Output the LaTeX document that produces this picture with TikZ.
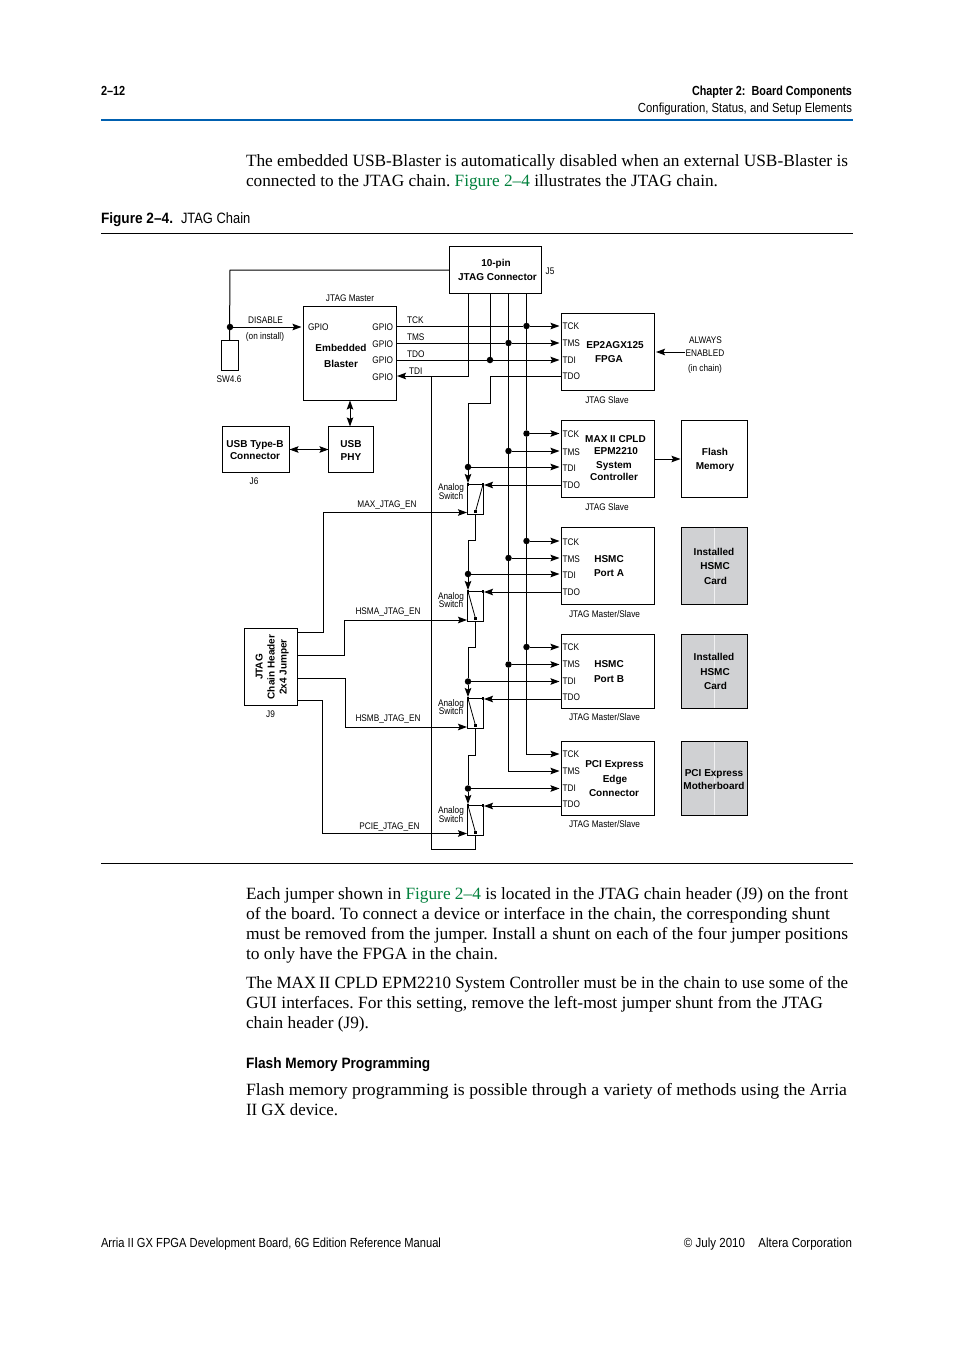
\documentclass[tikz,border=0pt]{standalone}
\usepackage{fontspec}
\usepackage{graphicx}
\usetikzlibrary{arrows.meta}
\setmainfont{Liberation Serif}
\newfontfamily\nar[FakeStretch=0.86]{Liberation Sans}
\newfontfamily\hd[FakeStretch=0.86]{Liberation Sans}
\newfontfamily\hdb[FakeStretch=0.83]{Liberation Sans}
\newfontfamily\capb[FakeStretch=0.91]{Liberation Sans}
\newfontfamily\bod[FakeStretch=1.005]{Liberation Serif}
\newfontfamily\bsans{Liberation Sans}
\definecolor{link}{RGB}{0,128,60}
\definecolor{rulebl}{RGB}{0,96,176}
\definecolor{card}{RGB}{208,209,211}
\newcounter{tc}
\newcommand\T[3][lab]{\stepcounter{tc}\node[#1] (txt\thetc) at (#2) {#3};}
\newcommand\B[3][bold]{\stepcounter{tc}\node[#1] (txt\thetc) at (#2) {#3};}
\newcommand\fitw[2]{\resizebox{#1pt}{\height}{#2}}
\tikzset{
 base/.style={inner sep=0pt,outer sep=0pt,text height=9.2pt,text depth=2pt},
 lab/.style={base,font=\nar\fontsize{9.6}{10}\selectfont},
 labw/.style={lab,anchor=west},
 labe/.style={lab,anchor=east},
 bold/.style={base,font=\bsans\bfseries\fontsize{10}{11}\selectfont},
 chip/.style={draw=black,line width=1pt,inner sep=0pt,outer sep=0pt},
 cardbox/.style={chip,fill=card},
 wire/.style={line width=1pt,draw=black},
 arr/.style={wire,-{Stealth[length=9pt,width=6.5pt,inset=1.5pt]}},
 darr/.style={wire,{Stealth[length=9pt,width=6.5pt,inset=1.5pt]}-{Stealth[length=9pt,width=6.5pt,inset=1.5pt]}},
 dotn/.style={circle,fill=black,inner sep=0pt,minimum size=6.5pt},
 pad/.style={fill=black,inner sep=0pt,minimum size=2.6pt},
 body/.style={anchor=west,inner sep=0pt,outer sep=0pt,text height=15pt,text depth=3.5pt,font=\bod\fontsize{17.2}{20}\selectfont\frenchspacing},
 head/.style={inner sep=0pt,outer sep=0pt,text height=11pt,text depth=2.5pt,font=\hd\fontsize{13.15}{14}\selectfont},
 headb/.style={head,font=\hdb\bfseries\fontsize{13.15}{14}\selectfont},
 capt/.style={head,anchor=west,font=\hd\fontsize{15}{16}\selectfont},
 captb/.style={head,anchor=west,font=\capb\bfseries\fontsize{15}{16}\selectfont},
 swbox/.style={draw=black,line width=1pt,inner sep=0pt,minimum width=16pt,minimum height=30pt}
}
\begin{document}
\begin{tikzpicture}[x=1pt,y=-1pt]
\useasboundingbox (0,0) rectangle (954,1350);
\fill[white] (0,0) rectangle (954,1350);

% page furniture
\coordinate (r1a) at (101,120); \coordinate (r1b) at (853,120);
\coordinate (r2a) at (101,233.5); \coordinate (r2b) at (853,233.5);
\coordinate (r3a) at (101,863.5); \coordinate (r3b) at (853,863.5);
\draw[rulebl,line width=2pt] (r1a) -- (r1b);
\draw[black,line width=.7pt] (r2a) -- (r2b);
\draw[black,line width=.7pt] (r3a) -- (r3b);
\T[headb,anchor=west]{101,91}{2–12}
\T[headb,anchor=east]{852,91}{\fitw{160}{Chapter 2:\, Board Components}}
\T[head,anchor=east]{852,108}{\fitw{214}{Configuration, Status, and Setup Elements}}
\T[captb]{101,219}{Figure 2–4.}
\T[capt]{181,219}{JTAG Chain}
\T[body]{246,161}{\fitw{602}{The embedded USB-Blaster is automatically disabled when an external USB-Blaster is}}
\T[body]{246,181}{\fitw{472}{connected to the JTAG chain. \textcolor{link}{Figure 2–4} illustrates the JTAG chain.}}
\T[body]{246,894}{\fitw{602}{Each jumper shown in \textcolor{link}{Figure 2–4} is located in the JTAG chain header (J9) on the front}}
\T[body]{246,914}{\fitw{584}{of the board. To connect a device or interface in the chain, the corresponding shunt}}
\T[body]{246,934}{\fitw{602}{must be removed from the jumper. Install a shunt on each of the four jumper positions}}
\T[body]{246,954}{\fitw{252}{to only have the FPGA in the chain.}}
\T[body]{246,983}{\fitw{602}{The MAX\,II CPLD EPM2210 System Controller must be in the chain to use some of the}}
\T[body]{246,1003}{\fitw{577}{GUI interfaces. For this setting, remove the left-most jumper shunt from the JTAG}}
\T[body]{246,1023}{\fitw{123}{chain header (J9).}}
\T[captb]{246,1064}{Flash Memory Programming}
\T[body]{246,1090}{\fitw{601}{Flash memory programming is possible through a variety of methods using the Arria}}
\T[body]{246,1110}{\fitw{92}{II GX device.}}
\T[head,anchor=west]{101,1243}{\fitw{340}{Arria II GX FPGA Development Board, 6G Edition Reference Manual}}
\T[head,anchor=east]{852,1243}{\fitw{168}{© July 2010\quad Altera Corporation}}

% boxes
\node[chip,minimum width=92pt,minimum height=47pt] (jtag) at (495.5,270) {};
\node[chip,minimum width=93pt,minimum height=94pt] (blaster) at (350,353.5) {};
\node[chip,minimum width=17pt,minimum height=30pt] (sw) at (229.5,355) {};
\node[chip,minimum width=67pt,minimum height=46pt] (typeb) at (256,449.5) {};
\node[chip,minimum width=45pt,minimum height=46.5pt] (phy) at (351,449.7) {};
\node[chip,minimum width=93pt,minimum height=77pt] (fpga) at (608,352) {};
\node[chip,minimum width=93pt,minimum height=77pt] (max) at (608,459) {};
\node[chip,minimum width=66pt,minimum height=77pt] (flash) at (714.5,459) {};
\node[chip,minimum width=93pt,minimum height=77pt] (hsma) at (608,566) {};
\node[cardbox,minimum width=66pt,minimum height=77pt] (carda) at (714.5,566) {};
\node[chip,minimum width=93pt,minimum height=74pt] (hsmb) at (608,671.5) {};
\node[cardbox,minimum width=66pt,minimum height=74pt] (cardb) at (714.5,671.5) {};
\node[chip,minimum width=93pt,minimum height=74pt] (pci) at (608,778.5) {};
\node[cardbox,minimum width=66pt,minimum height=74pt] (cardc) at (714.5,778.5) {};
\node[chip,minimum width=53pt,minimum height=77pt] (j9) at (271,667) {};
\foreach \c in {carda,cardb,cardc}{\draw[white!70!card,line width=.5pt] ([yshift=-.5pt]\c.north) -- ([yshift=.5pt]\c.south);}

% analog switches
\node[swbox] (s1) at (475.5,499) {};
\node[swbox] (s2) at (475.5,606) {};
\node[swbox] (s3) at (475.5,713) {};
\node[swbox] (s4) at (475.5,820) {};
\foreach \s in {s1,s2,s3,s4}{
 \node[pad] (\s a) at ([xshift=1pt,yshift=-1pt]\s.north west) {};
 \node[pad] (\s b) at ([xshift=-1pt,yshift=-1pt]\s.north east) {};
 \node[pad] (\s c) at ([yshift=3pt]\s.south) {};
}
\draw[wire,line width=.8pt] (s1b) -- (s1c);
\draw[wire,line width=.8pt] (s2a) -- (s2c);
\draw[wire,line width=.8pt] (s3a) -- (s3c);
\draw[wire,line width=.8pt] (s4a) -- (s4c);

% junction dots
\node[dotn] (dsw) at (230,327) {};
\node[dotn] (dck1) at (526.5,326) {};
\node[dotn] (dms1) at (508.5,343) {};
\node[dotn] (ddi1) at (490,360) {};
\node[dotn] (dck2) at (526.5,433.5) {};
\node[dotn] (dms2) at (508.5,451) {};
\node[dotn] (ddi2) at (468,467) {};
\node[dotn] (dck3) at (526.5,541) {};
\node[dotn] (dms3) at (508.5,558) {};
\node[dotn] (ddi3) at (468,574) {};
\node[dotn] (dck4) at (526.5,647) {};
\node[dotn] (dms4) at (508.5,664.5) {};
\node[dotn] (ddi4) at (468,681.5) {};
\node[dotn] (ddi5) at (468,788.5) {};

% pin coordinates
\foreach \n/\a/\b/\c/\d in {fpga/326/343/360/376,max/433.5/451/467/485,hsma/541/558/574/592,hsmb/647/664.5/681.5/699,pci/754/771/788.5/806}{
 \coordinate (\n ck) at (\n.west |- 0,\a);
 \coordinate (\n ms) at (\n.west |- 0,\b);
 \coordinate (\n di) at (\n.west |- 0,\c);
 \coordinate (\n do) at (\n.west |- 0,\d);
}
\coordinate (bck) at (blaster.east |- 0,326);
\coordinate (bms) at (blaster.east |- 0,343);
\coordinate (bdo) at (blaster.east |- 0,360);
\coordinate (bdi) at (blaster.east |- 0,376);
\coordinate (bgp) at (blaster.west |- 0,327);
\coordinate (jl) at (jtag.west);
\coordinate (jlc) at (230,270);
\coordinate (ji) at (468,293.5);
\coordinate (jd) at (490,293.5);
\coordinate (jm) at (508.5,293.5);
\coordinate (jc) at (526.5,293.5);
\coordinate (ti) at (468,376);
\coordinate (tdil) at (431.5,376);
\coordinate (tdib) at (431.5,849.5);
\coordinate (tdic) at (475.5,849.5);

% connectors
\draw[wire] (jl) -- (jlc) -- (sw.north);
\draw[arr,shorten >=2pt] (dsw) -- (bgp);
\draw[wire] (bck) -- (dck1);
\draw[arr,shorten >=2pt] (dck1) -- (fpgack);
\draw[wire] (bms) -- (dms1);
\draw[arr,shorten >=2pt] (dms1) -- (fpgams);
\draw[wire] (bdo) -- (ddi1);
\draw[arr,shorten >=2pt] (ddi1) -- (fpgadi);
\draw[arr,shorten >=.5pt] (ji) -- (ti) -- (bdi);
\draw[wire] (jd) -- (ddi1);
\draw[wire] (jc) -- (dck1);
\draw[wire] (jm) -- (dms1);
\draw[wire] (dck1) -- (dck2) -- (dck3) -- (dck4);
\draw[wire] (dms1) -- (dms2) -- (dms3) -- (dms4);
\draw[arr,shorten >=2pt] (dck4) |- (pcick);
\draw[arr,shorten >=2pt] (dms4) |- (pcims);
\foreach \n/\d in {max/2,hsma/3,hsmb/4}{
 \draw[arr,shorten >=2pt] (dck\d) -- (\n ck);
 \draw[arr,shorten >=2pt] (dms\d) -- (\n ms);
 \draw[arr,shorten >=2pt] (ddi\d) -- (\n di);
}
\draw[arr,shorten >=2pt] (ddi5) -- (pcidi);
\draw[wire] (tdil) -- (tdib) -- (tdic) -- (s4.south);
% TDO paths
\coordinate (f1) at (490,403.5); \coordinate (f2) at (468,403.5); \coordinate (f3) at (490,376);
\draw[wire] (fpgado) -- (f3) -- (f1) -- (f2) -- (ddi2);
\foreach \d/\s in {s1/ddi2,s2/ddi3,s3/ddi4,s4/ddi5}{
 \draw[arr] (\s) -- (\d a.north);
}
\draw[arr] (maxdo) -- (s1.east |- maxdo);
\draw[arr] (hsmado) -- (s2.east |- hsmado);
\draw[arr] (hsmbdo) -- (s3.east |- hsmbdo);
\draw[arr] (pcido) -- (s4.east |- pcido);
\coordinate (k1a) at (475.5,540.5); \coordinate (k1b) at (468,540.5);
\coordinate (k2a) at (475.5,647.5); \coordinate (k2b) at (468,647.5);
\coordinate (k3a) at (475.5,755.5); \coordinate (k3b) at (468,755.5);
\draw[wire] (s1.south) -- (k1a) -- (k1b) -- (ddi3);
\draw[wire] (s2.south) -- (k2a) -- (k2b) -- (ddi4);
\draw[wire] (s3.south) -- (k3a) -- (k3b) -- (ddi5);
% enables
\coordinate (e1a) at (297.5,632); \coordinate (e1b) at (323,632); \coordinate (e1c) at (323,512.5);
\coordinate (e2a) at (297.5,655); \coordinate (e2b) at (344.5,655); \coordinate (e2c) at (344.5,620);
\coordinate (e3a) at (297.5,678); \coordinate (e3b) at (345.5,678); \coordinate (e3c) at (345.5,727);
\coordinate (e4a) at (297.5,700.5); \coordinate (e4b) at (322.5,700.5); \coordinate (e4c) at (322.5,833.5);
\draw[arr] (e1a) -- (e1b) -- (e1c) -- (s1.west |- e1c);
\draw[arr] (e2a) -- (e2b) -- (e2c) -- (s2.west |- e2c);
\draw[arr] (e3a) -- (e3b) -- (e3c) -- (s3.west |- e3c);
\draw[arr] (e4a) -- (e4b) -- (e4c) -- (s4.west |- e4c);
% misc arrows
\coordinate (alw) at (685,352);
\draw[arr,shorten >=1.5pt] (alw) -- (fpga.east |- alw);
\draw[arr,shorten >=1pt] (max.east) -- (flash.west);
\draw[darr] (blaster.south) -- (blaster.south |- phy.north);
\draw[darr] (typeb.east) -- (typeb.east -| phy.west);

% labels
\B{496,263}{10-pin}
\B{497.5,277}{JTAG Connector}
\T{550,271}{J5}
\T{350,298}{JTAG Master}
\T{265.5,320}{DISABLE}
\T{265,336}{(on install)}
\T[labw]{308,327}{GPIO}
\T[labe]{393,327}{GPIO}
\T[labe]{393,344}{GPIO}
\T[labe]{393,360}{GPIO}
\T[labe]{393,377}{GPIO}
\B{341,348}{Embedded}
\B{341,364}{Blaster}
\T[labw]{407,320}{TCK}
\T[labw]{407,337}{TMS}
\T[labw]{407,354}{TDO}
\T[labw]{409,371}{TDI}
\T{229,379}{SW4.6}
\B{255,444}{USB Type-B}
\B{255,456}{Connector}
\B{351,444}{USB}
\B{351,457}{PHY}
\T{254,481}{J6}
\foreach \a/\b/\c/\d in {326/343/360/376,434/452/467.5/485,541.5/558.5/574.5/591.5,646.5/663.5/680.5/696.5,753.5/771/787.5/804}{
 \T[labw]{562.5,\a}{TCK}
 \T[labw]{562.5,\b}{TMS}
 \T[labw]{562.5,\c}{TDI}
 \T[labw]{562.5,\d}{TDO}
}
\B{615,345}{EP2AGX125}
\B{609,359}{FPGA}
\T{607,400}{JTAG Slave}
\T{705.5,340}{ALWAYS}
\T{705,353}{ENABLED}
\T{705,368}{(in chain)}
\B{615.5,438.5}{MAX II CPLD}
\B{616,451}{EPM2210}
\B{614,465}{System}
\B{614,477}{Controller}
\T{607,507}{JTAG Slave}
\B{715,452}{Flash}
\B{715,466}{Memory}
\B{609,559}{HSMC}
\B{609,573}{Port A}
\T{604.5,614}{JTAG Master/Slave}
\B{714,552}{Installed}
\B{715,566}{HSMC}
\B{715.5,581}{Card}
\B{609,663.5}{HSMC}
\B{609,678.5}{Port B}
\T{604.5,717}{JTAG Master/Slave}
\B{714,657}{Installed}
\B{715,672}{HSMC}
\B{715.5,686}{Card}
\B{614.5,763.5}{PCI Express}
\B{615,779}{Edge}
\B{614,793}{Connector}
\T{604.5,824}{JTAG Master/Slave}
\B{714,773}{PCI Express}
\B{714,786}{Motherboard}
\foreach \a/\b in {487/496,596/604,703/711,810/819}{
 \T{451,\a}{Analog}
 \T{451,\b}{Switch}
}
\T{387,504}{MAX\_JTAG\_EN}
\T{388,611}{HSMA\_JTAG\_EN}
\T{388,718}{HSMB\_JTAG\_EN}
\T{389.5,826}{PCIE\_JTAG\_EN}
\T{270.5,714}{J9}
\B[bold,rotate=90]{259,667}{JTAG}
\B[bold,rotate=90]{271,667}{Chain Header}
\B[bold,rotate=90]{283,667}{2x4 Jumper}
\end{tikzpicture}
\end{document}
